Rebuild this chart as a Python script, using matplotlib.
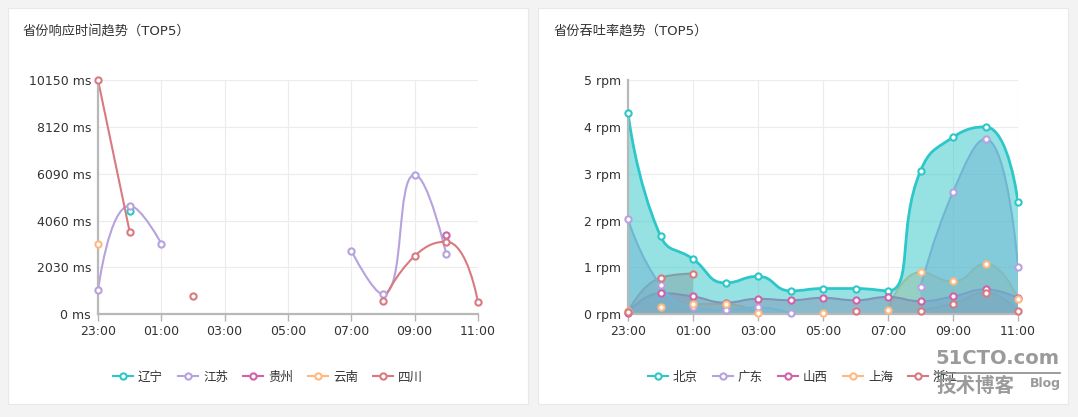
import numpy as np
import matplotlib.pyplot as plt
from matplotlib.path import Path
from matplotlib.patches import PathPatch, Rectangle
from matplotlib.lines import Line2D

plt.rcParams['font.family'] = ['DejaVu Sans', 'Noto Sans CJK SC']

nan = np.nan

# hourly categories shared by both charts
hours = ['23:00', '00:00', '01:00', '02:00', '03:00', '04:00', '05:00',
         '06:00', '07:00', '08:00', '09:00', '10:00', '11:00']

# left chart: response time (ms)
rt_names = ['辽宁', '江苏', '贵州', '云南', '四川']
rt_liaoning = [nan, 4475, nan, nan, nan, nan, nan, nan, nan, nan, nan, nan, nan]
rt_jiangsu = [1040, 4705, 3060, nan, nan, nan, nan, nan, 2755, 866, 6048, 2600, nan]
rt_guizhou = [nan, nan, nan, nan, nan, nan, nan, nan, nan, nan, nan, 3435, nan]
rt_yunnan = [3032, nan, nan, nan, nan, nan, nan, nan, nan, nan, nan, nan, nan]
rt_sichuan = [10150, 3578, nan, 793, nan, nan, nan, nan, nan, 563, 2525, 3145, 520]
rt_ticks = [0, 2030, 4060, 6090, 8120, 10150]

# right chart: throughput (rpm)
tp_names = ['北京', '广东', '山西', '上海', '浙江']
tp_beijing = [4.30, 1.67, 1.18, 0.67, 0.81, 0.50, 0.55, 0.55, 0.50, 3.06, 3.78, 4.00, 2.40]
tp_guangdong = [2.03, 0.62, 0.15, 0.09, 0.15, 0.02, nan, 0.09, nan, 0.58, 2.61, 3.74, 1.02]
tp_shanxi = [0.03, 0.45, 0.38, 0.25, 0.33, 0.30, 0.35, 0.30, 0.37, 0.28, 0.38, 0.53, 0.35]
tp_shanghai = [0.06, 0.15, 0.21, 0.22, 0.03, nan, 0.02, nan, 0.10, 0.90, 0.70, 1.08, 0.32]
tp_zhejiang = [0.05, 0.78, 0.87, nan, nan, nan, nan, 0.07, nan, 0.08, 0.23, 0.46, 0.07]
tp_ticks = [0, 1, 2, 3, 4, 5]

colors = ['#2ec7c9', '#b6a2de', '#d062a8', '#ffb980', '#d87a80']

W, H = 1078, 417
fig = plt.figure(figsize=(W / 100, H / 100), dpi=100, facecolor='#f3f3f3')

# white panels behind the charts
for x0, x1 in [(8, 528), (538, 1068)]:
    fig.patches.append(Rectangle((x0 / W, 1 - 404 / H), (x1 - x0) / W, 396 / H,
                                 transform=fig.transFigure, facecolor='white',
                                 edgecolor='#e8e8e8', lw=0.8, zorder=-1))


def segments(y):
    # split a series on missing values
    segs, cur = [], []
    for i, v in enumerate(y):
        if np.isnan(v):
            if cur:
                segs.append(cur)
            cur = []
        else:
            cur.append(i)
    if cur:
        segs.append(cur)
    return segs


def smooth_path(xs, ys, sx, sy, smooth=0.5):
    # bezier smoothing in pixel space, control points kept inside each segment
    px = np.asarray(xs, float) * sx
    py = np.asarray(ys, float) * sy
    n = len(px)
    verts = [(px[0], py[0])]
    codes = [Path.MOVETO]
    cx0, cy0 = px[0], py[0]
    for k in range(1, n):
        x, y = px[k], py[k]
        if k == n - 1:
            cx1, cy1 = x, y
            ncx0, ncy0 = x, y
        else:
            prx, pry = px[k - 1], py[k - 1]
            nx, ny = px[k + 1], py[k + 1]
            vx, vy = nx - prx, ny - pry
            l0 = np.hypot(x - prx, y - pry)
            l1 = np.hypot(nx - x, ny - y)
            r = l1 / (l0 + l1)
            ncx0 = x + vx * smooth * r
            ncy0 = y + vy * smooth * r
            ncx0 = max(min(ncx0, max(nx, x)), min(nx, x))
            ncy0 = max(min(ncy0, max(ny, y)), min(ny, y))
            vx, vy = ncx0 - x, ncy0 - y
            cx1 = x - vx * l0 / l1
            cy1 = y - vy * l0 / l1
            cx1 = max(min(cx1, max(prx, x)), min(prx, x))
            cy1 = max(min(cy1, max(pry, y)), min(pry, y))
            vx, vy = x - cx1, y - cy1
            ncx0 = x + vx * l1 / l0
            ncy0 = y + vy * l1 / l0
        verts += [(cx0, cy0), (cx1, cy1), (x, y)]
        codes += [Path.CURVE4] * 3
        cx0, cy0 = ncx0, ncy0
    verts = np.array(verts) / [sx, sy]
    return verts, codes


def draw_chart(rect, title, names, series, ticks, unit, area, title_x):
    ax = fig.add_axes(rect)
    ax.set_facecolor('none')
    ymax = ticks[-1]
    ax.set_xlim(0, len(hours) - 1)
    ax.set_ylim(0, ymax)
    bbox = ax.get_position()
    sx = bbox.width * W / (len(hours) - 1)
    sy = bbox.height * H / ymax
    x = np.arange(len(hours))

    order = range(len(series) - 1, -1, -1) if area else range(len(series))
    for i in order:
        y = np.array(series[i], dtype=float)
        lw = 2 if (area and i == 0) else 1.5
        for seg in segments(y):
            if len(seg) < 2:
                continue
            verts, codes = smooth_path(x[seg], y[seg], sx, sy)
            if area:
                fv = np.vstack([verts, [[seg[-1], 0], [seg[0], 0], [seg[0], 0]]])
                fc = codes + [Path.LINETO, Path.LINETO, Path.CLOSEPOLY]
                ax.add_patch(PathPatch(Path(fv, fc), facecolor=colors[i],
                                       edgecolor='none', alpha=0.5, zorder=2))
            ax.add_patch(PathPatch(Path(verts, codes), facecolor='none',
                                   edgecolor=colors[i], lw=lw, zorder=2))
    for i in range(len(series)):
        ax.plot(x, series[i], 'o', ms=4.5, mfc='white', mec=colors[i], mew=1.5,
                zorder=5, clip_on=False)

    ax.set_xticks(x[::2])
    ax.set_xticklabels(hours[::2])
    ax.set_yticks(ticks)
    ax.set_yticklabels([f'{t} {unit}' for t in ticks])
    ax.tick_params(axis='x', length=5, color='#b5b5b5', width=1, labelsize=9,
                   labelcolor='#333333', pad=3)
    ax.tick_params(axis='y', length=0, labelsize=9, labelcolor='#333333', pad=5)
    ax.grid(True, color='#ececec', lw=0.8, zorder=0)
    ax.set_axisbelow(True)
    for s in ['top', 'right']:
        ax.spines[s].set_visible(False)
    for s in ['left', 'bottom']:
        ax.spines[s].set_color('#b8b8b8')
        ax.spines[s].set_linewidth(1.6)
        ax.spines[s].set_zorder(3)

    fig.text(title_x / W, 1 - 31 / H, title, fontsize=9.5, color='#333333',
             va='center', ha='left')

    handles = [Line2D([0], [0], color=c, lw=1.5, marker='o', ms=4.5, mfc='white',
                      mew=1.5) for c in colors]
    return ax, handles


ax1, h1 = draw_chart([98 / W, 1 - 314.3 / H, 380 / W, 234.3 / H],
                     '省份响应时间趋势（TOP5）', rt_names,
                     [rt_liaoning, rt_jiangsu, rt_guizhou, rt_yunnan, rt_sichuan],
                     rt_ticks, 'ms', False, 23)
ax2, h2 = draw_chart([628 / W, 1 - 314.3 / H, 390 / W, 234.3 / H],
                     '省份吞吐率趋势（TOP5）', tp_names,
                     [tp_beijing, tp_guangdong, tp_shanxi, tp_shanghai, tp_zhejiang],
                     tp_ticks, 'rpm', True, 554)

for handles, names, cx in [(h1, rt_names, 268), (h2, tp_names, 803)]:
    fig.legend(handles, names, loc='center', bbox_to_anchor=(cx / W, 1 - 377 / H),
               ncol=5, frameon=False, fontsize=9, handlelength=1.6,
               handletextpad=0.4, columnspacing=1.2, labelcolor='#333333')

# site watermark in the corner
fig.text(997 / W, 1 - 358 / H, '51CTO.com', fontsize=14, fontweight='bold',
         color='#9a9a9a', ha='center', va='center', zorder=10)
fig.add_artist(Line2D([935 / W, 1060 / W], [1 - 373 / H, 1 - 373 / H],
                      color='#8a8a8a', lw=1.2, zorder=10))
fig.text(975 / W, 1 - 386 / H, '技术博客', fontsize=14, fontweight='bold',
         color='#9a9a9a', ha='center', va='center', zorder=10,
         family=['Noto Sans CJK SC'])
fig.text(1045 / W, 1 - 383 / H, 'Blog', fontsize=9, fontweight='bold',
         color='#9a9a9a', ha='center', va='center', zorder=10)

fig.savefig('out.png', dpi=100, facecolor=fig.get_facecolor())
